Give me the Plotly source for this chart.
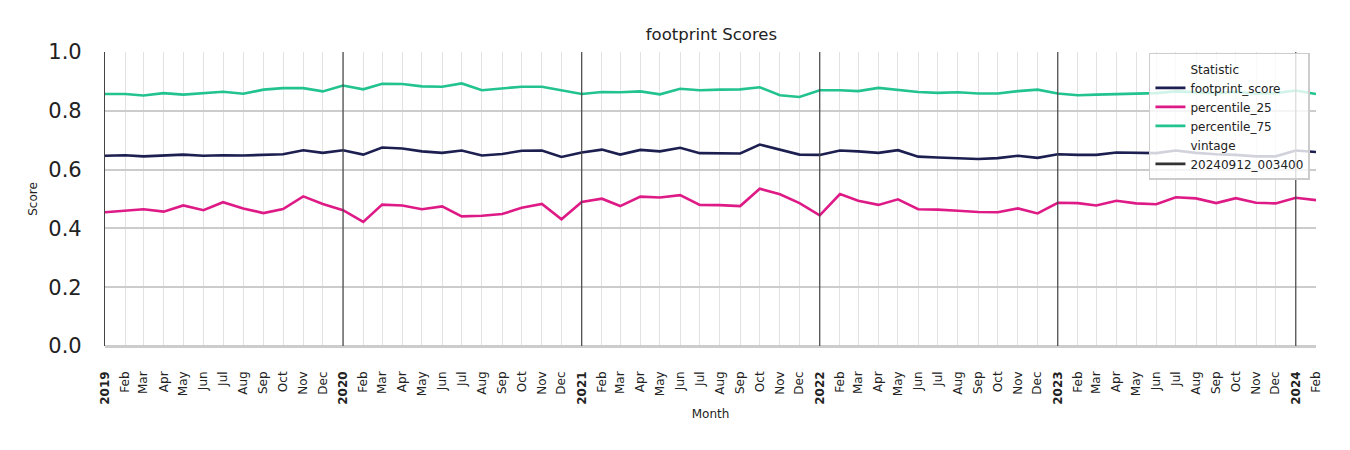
import pandas as pd
import plotly.graph_objects as go

months = [d.strftime("%Y-%m-%d") for d in pd.date_range("2019-01-01", periods=62, freq="MS")]

footprint_score = [0.647, 0.649, 0.645, 0.647, 0.651, 0.647, 0.649, 0.648, 0.650, 0.652, 0.666, 0.657,
                   0.666, 0.651, 0.675, 0.672, 0.662, 0.657, 0.665, 0.648, 0.653, 0.664, 0.665, 0.643,
                   0.658, 0.668, 0.651, 0.667, 0.662, 0.674, 0.656, 0.656, 0.655, 0.685, 0.669, 0.651,
                   0.650, 0.665, 0.662, 0.657, 0.666, 0.644, 0.641, 0.639, 0.636, 0.639, 0.647, 0.640,
                   0.652, 0.650, 0.650, 0.658, 0.657, 0.656, 0.665, 0.657, 0.652, 0.650, 0.645, 0.645,
                   0.665, 0.660]
percentile_25 = [0.455, 0.461, 0.465, 0.457, 0.478, 0.462, 0.489, 0.468, 0.452, 0.466, 0.509, 0.483,
                 0.462, 0.422, 0.481, 0.478, 0.465, 0.475, 0.441, 0.443, 0.449, 0.470, 0.483, 0.431,
                 0.490, 0.501, 0.476, 0.508, 0.505, 0.513, 0.480, 0.479, 0.476, 0.535, 0.516, 0.486,
                 0.444, 0.517, 0.494, 0.480, 0.499, 0.465, 0.464, 0.460, 0.456, 0.455, 0.468, 0.451,
                 0.487, 0.486, 0.478, 0.494, 0.485, 0.482, 0.506, 0.502, 0.486, 0.503, 0.487, 0.485,
                 0.504, 0.496]
percentile_75 = [0.857, 0.857, 0.852, 0.860, 0.855, 0.860, 0.865, 0.858, 0.872, 0.877, 0.877, 0.866,
                 0.886, 0.873, 0.892, 0.891, 0.883, 0.882, 0.893, 0.870, 0.876, 0.882, 0.882, 0.870,
                 0.857, 0.864, 0.863, 0.866, 0.856, 0.875, 0.870, 0.872, 0.873, 0.880, 0.853, 0.847,
                 0.870, 0.870, 0.867, 0.878, 0.870, 0.864, 0.861, 0.863, 0.859, 0.859, 0.867, 0.872,
                 0.859, 0.853, 0.855, 0.857, 0.857, 0.860, 0.866, 0.864, 0.860, 0.864, 0.859, 0.860,
                 0.869, 0.857]

series_names = ["footprint_score", "percentile_25", "percentile_75"]
series_colors = ["#1c1f50", "#de1a86", "#22c38f"]
month_abbr = ["Jan", "Feb", "Mar", "Apr", "May", "Jun", "Jul", "Aug", "Sep", "Oct", "Nov", "Dec"]
tick_text = [f"<b>{m[:4]}</b>" if m[5:7] == "01" else month_abbr[int(m[5:7]) - 1] for m in months]
year_starts = [m for m in months[1:] if m[5:7] == "01"]

FONT = "DejaVu Sans"
fig = go.Figure()

fig.add_trace(go.Scatter(x=[months[0]], y=[None], mode="lines", name="Statistic",
                         line=dict(color="rgba(0,0,0,0)", width=0), hoverinfo="skip"))
for name, vals, col in zip(series_names, [footprint_score, percentile_25, percentile_75], series_colors):
    fig.add_trace(go.Scatter(x=months, y=vals, mode="lines", name=name,
                             line=dict(color=col, width=2.6)))
fig.add_trace(go.Scatter(x=[months[0]], y=[None], mode="lines", name="vintage",
                         line=dict(color="rgba(0,0,0,0)", width=0), hoverinfo="skip"))
fig.add_trace(go.Scatter(x=[months[0]], y=[None], mode="lines", name="20240912_003400",
                         line=dict(color="#333333", width=2.6), hoverinfo="skip"))

for d in year_starts:
    fig.add_shape(type="line", xref="x", yref="paper", x0=d, x1=d, y0=0, y1=1,
                  line=dict(color="#444444", width=1.2), layer="above")

fig.update_layout(
    width=1350, height=450,
    margin=dict(l=105, r=34, t=52, b=104),
    paper_bgcolor="white", plot_bgcolor="white",
    font=dict(family=FONT, color="#222222"),
    title=dict(text="footprint Scores", x=0.527, xanchor="center", y=0.925, yanchor="middle",
               yref="container", font=dict(family=FONT, size=16.5, color="#222222")),
    showlegend=True,
    legend=dict(x=0.995, xanchor="right", y=0.997, yanchor="top",
                bgcolor="rgba(255,255,255,0.8)", bordercolor="#cccccc", borderwidth=1.5,
                font=dict(family=FONT, size=12, color="#222222"), tracegroupgap=0),
)
fig.update_xaxes(
    type="date",
    range=[months[0], months[-1]],
    tickmode="array", tickvals=months, ticktext=tick_text,
    tickangle=-90, tickfont=dict(family=FONT, size=12, color="#222222"),
    ticks="", ticklabelstandoff=22,
    showgrid=True, gridcolor="#e2e2e2", gridwidth=1,
    showline=False, zeroline=False,
    title=dict(text="Month", font=dict(family=FONT, size=12, color="#222222"), standoff=5),
)
fig.update_yaxes(
    range=[0, 1.0], tickmode="array", tickvals=[0, 0.2, 0.4, 0.6, 0.8, 1.0],
    ticktext=["0.0", "0.2", "0.4", "0.6", "0.8", "1.0"],
    tickfont=dict(family=FONT, size=21, color="#222222"),
    ticks="", ticklabelstandoff=18,
    showgrid=True, gridcolor="#cccccc", gridwidth=2,
    showline=True, linecolor="#444444", linewidth=1.2, mirror=False,
    zeroline=True, zerolinecolor="#cccccc", zerolinewidth=2.5,
    title=dict(text="Score", font=dict(family=FONT, size=12, color="#222222"), standoff=8),
)

fig.write_html("out.html")
